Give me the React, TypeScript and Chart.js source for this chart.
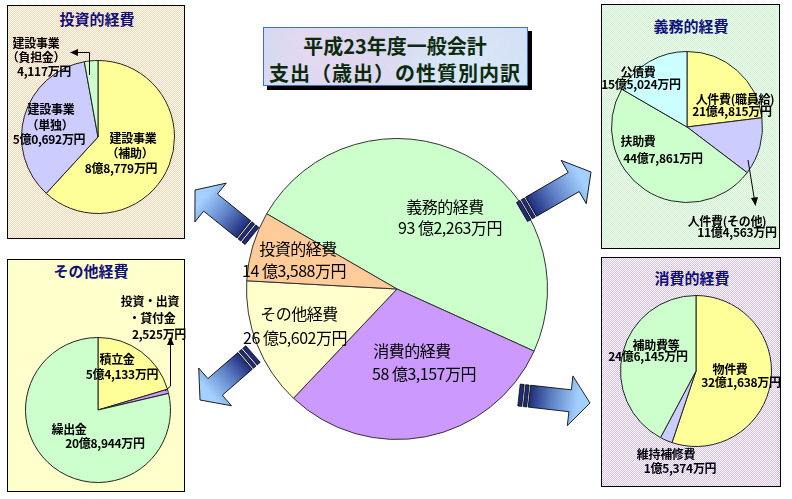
import React, { useEffect, useRef } from "react";
import { Chart, registerables } from "chart.js";
Chart.register(...registerables);

// ---------- data (values in 万円) ----------
const mainNames = ["義務的経費", "消費的経費", "その他経費", "投資的経費"];
const mainValues = [932263, 583157, 265602, 143588];

const toushiNames = [["建設事業", "（補助）"], ["建設事業", "（単独）"], ["建設事業", "（負担金）"]];
const toushiValues = [88779, 50692, 4117];

const gimuNames = [["人件費(職員給)"], ["人件費(その他)"], ["扶助費"], ["公債費"]];
const gimuValues = [214815, 114563, 447861, 155024];

const sonotaNames = [["積立金"], ["投資・出資", "・貸付金"], ["繰出金"]];
const sonotaValues = [54133, 2525, 208944];

const shohiNames = [["物件費"], ["維持補修費"], ["補助費等"]];
const shohiValues = [321638, 15374, 246145];

const titleLines = ["平成23年度一般会計", "支出（歳出）の性質別内訳"];

// ---------- formatting ----------
function pad4(m: number) {
  const s = String(m).padStart(4, "0");
  return s[0] + "," + s.slice(1);
}
function fmtSmall(v: number) {
  const oku = Math.floor(v / 10000);
  const man = v % 10000;
  return oku > 0 ? `${oku}億${pad4(man)}万円` : `${pad4(man)}万円`;
}
function fmtMain(v: number) {
  const oku = Math.floor(v / 10000);
  const man = v % 10000;
  return `${oku} 億${pad4(man)}万円`;
}

// ---------- layout / style ----------
const Y = "#FFFF99", L = "#CCCCFF", G = "#CCFFCC", C = "#CCFFFF", P = "#CC99FF";
const SMALL_FONT = "bold 12px 'Noto Sans CJK JP', sans-serif";
const MAIN_FONT = "16px 'Noto Sans CJK JP', sans-serif";

type Spec = {
  names: string[][];
  values: number[];
  colors: string[];
  cx: number; cy: number; r: number; rotation: number;
  pos: number[][][];
  font: string;
  fmt: (v: number) => string;
  border: string;
};

const specs: Spec[] = [
  {
    names: mainNames.map((n) => [n]), values: mainValues, colors: [G, P, "#FFFFCC", "#FFCC99"],
    cx: 397, cy: 289, r: 150, rotation: -60, font: MAIN_FONT, fmt: fmtMain, border: "#333",
    pos: [[[445, 206], [450, 227]], [[412, 350], [424, 373]], [[299, 313], [295, 337]], [[298, 248], [294, 270]]],
  },
  {
    names: toushiNames, values: toushiValues, colors: [Y, L, G],
    cx: 98, cy: 137, r: 76, rotation: 0, font: SMALL_FONT, fmt: fmtSmall, border: "#222",
    pos: [[[133, 137], [130, 152], [121, 167]], [[51, 108], [50, 124], [49, 138]], [[36, 42], [36, 56], [44, 70]]],
  },
  {
    names: gimuNames, values: gimuValues, colors: [Y, L, G, C],
    cx: 687, cy: 127, r: 75, rotation: 0, font: SMALL_FONT, fmt: fmtSmall, border: "#222",
    pos: [[[735, 98], [732, 110]], [[727, 220], [737, 231]], [[638, 140], [663, 157]], [[638, 71], [641, 83]]],
  },
  {
    names: sonotaNames, values: sonotaValues, colors: [Y, P, G],
    cx: 98, cy: 410, r: 72, rotation: 0, font: SMALL_FONT, fmt: fmtSmall, border: "#222",
    pos: [[[117, 358], [122, 373]], [[150, 300], [152, 317], [159, 333]], [[69, 428], [105, 442]]],
  },
  {
    names: shohiNames, values: shohiValues, colors: [Y, L, G],
    cx: 696, cy: 371, r: 75, rotation: 0, font: SMALL_FONT, fmt: fmtSmall, border: "#222",
    pos: [[[730, 368], [741, 381]], [[666, 453], [680, 467]], [[656, 344], [648, 355]]],
  },
];

const checker = (c: string) => `repeating-conic-gradient(${c} 0 25%, #ffffff 0 50%) 0 0 / 2px 2px`;

const boxes = [
  { title: "投資的経費", x: 7, y: 5, w: 178, h: 234, tx: 97, ty: 18, bg: checker("#FFD3A8") },
  { title: "義務的経費", x: 601, y: 4, w: 179, h: 245, tx: 691, ty: 25, bg: checker("#C4F4C4") },
  { title: "その他経費", x: 7, y: 259, w: 178, h: 233, tx: 91, ty: 270, bg: "#FFFFCC" },
  { title: "消費的経費", x: 601, y: 257, w: 180, h: 230, tx: 692, ty: 277, bg: checker("#D6BBFF") },
];

const blockArrows = [
  { x1: 252, y1: 236, x2: 195, y2: 190 },
  { x1: 253, y1: 354, x2: 200, y2: 400 },
  { x1: 522, y1: 212, x2: 591, y2: 172 },
  { x1: 519, y1: 395, x2: 590, y2: 403 },
];

function PieCanvas({ spec }: { spec: Spec }) {
  const ref = useRef<HTMLCanvasElement>(null);
  useEffect(() => {
    const chart = new Chart(ref.current!, {
      type: "pie",
      data: {
        labels: spec.names.map((n) => n.join("")),
        datasets: [{
          data: spec.values,
          backgroundColor: spec.colors,
          borderColor: spec.border,
          borderWidth: 1,
          hoverOffset: 0,
        }],
      },
      options: {
        animation: false,
        responsive: false,
        rotation: spec.rotation,
        events: [],
        layout: { padding: 0 },
        plugins: { legend: { display: false }, tooltip: { enabled: false } },
      },
    });
    return () => chart.destroy();
  }, []);
  const S = spec.r * 2 + 2;
  return (
    <canvas ref={ref} width={S} height={S}
      style={{ position: "absolute", left: spec.cx - S / 2, top: spec.cy - S / 2, width: S, height: S }} />
  );
}

function BlockArrow({ a, i }: { a: { x1: number; y1: number; x2: number; y2: number }; i: number }) {
  const dx = a.x2 - a.x1, dy = a.y2 - a.y1;
  const len = Math.sqrt(dx * dx + dy * dy);
  const deg = (Math.atan2(dy, dx) * 180) / Math.PI;
  const sw = 11, hw = 25, hl = 20;
  const b0 = 10.5;
  const pts = [
    [b0, -sw], [len - hl, -sw], [len - hl, -hw], [len, 0], [len - hl, hw], [len - hl, sw], [b0, sw],
  ].map((p) => p.join(",")).join(" ");
  return (
    <g transform={`translate(${a.x1},${a.y1}) rotate(${deg})`}>
      <defs>
        <linearGradient id={`ag${i}`} gradientUnits="userSpaceOnUse" x1={b0} y1={0} x2={len - 12} y2={0}>
          <stop offset="0" stopColor="#1f2d7a" />
          <stop offset="0.45" stopColor="#5d7fc4" />
          <stop offset="1" stopColor="#a3d0ff" />
        </linearGradient>
      </defs>
      <rect x={0} y={-sw} width={4} height={sw * 2} fill="#1f2b78" stroke="#000" strokeWidth={0.7} />
      <rect x={5.5} y={-sw} width={3.5} height={sw * 2} fill="#1f2b78" stroke="#000" strokeWidth={0.7} />
      <polygon points={pts} fill={`url(#ag${i})`} stroke="#000" strokeWidth={0.8} />
    </g>
  );
}

export default function App() {
  return (
    <div style={{ position: "absolute", left: 0, top: 0, width: 792, height: 499, background: "#fff", overflow: "hidden",
      fontFamily: "'Noto Sans CJK JP', sans-serif" }}>
      {boxes.map((b, i) => (
        <div key={"b" + i} style={{ position: "absolute", left: b.x, top: b.y, width: b.w, height: b.h,
          border: "1px solid #000", background: b.bg, boxSizing: "border-box" }} />
      ))}
      {boxes.map((b, i) => (
        <div key={"t" + i} style={{ position: "absolute", left: b.tx, top: b.ty, transform: "translate(-50%,-50%)",
          font: "bold 15px 'Noto Sans CJK JP', sans-serif", color: "#10107a", whiteSpace: "nowrap" }}>{b.title}</div>
      ))}
      {/* title box */}
      <div style={{ position: "absolute", left: 267, top: 31, width: 265, height: 59, background: "#000" }} />
      <div style={{ position: "absolute", left: 263, top: 27, width: 265, height: 59, boxSizing: "border-box",
        border: "1.5px solid #3a6fe0",
        background: "radial-gradient(circle at 20% 30%, #e6d8f0 0, transparent 40%), radial-gradient(circle at 75% 70%, #d8e8f8 0, transparent 45%), linear-gradient(135deg, #c9dbf3, #dcd6ef 50%, #cfe2f6)" }} />
      {titleLines.map((t, i) => (
        <div key={"tl" + i} style={{ position: "absolute", left: 395, top: i === 0 ? 45 : 72, transform: "translate(-50%,-50%)",
          font: "bold 20px 'Noto Sans CJK JP', sans-serif", color: "#0c2a0c", whiteSpace: "nowrap", letterSpacing: i === 0 ? "0px" : "1px" }}>{t}</div>
      ))}
      {specs.map((s, i) => <PieCanvas key={"p" + i} spec={s} />)}
      {specs.map((s, si) =>
        s.names.map((nm, k) => {
          const lines = [...nm, s.fmt(s.values[k])];
          return lines.map((ln, j) => (
            <div key={`l${si}-${k}-${j}`} style={{ position: "absolute", left: s.pos[k][j][0], top: s.pos[k][j][1],
              transform: "translate(-50%,-50%)", font: s.font, color: "#000", whiteSpace: "nowrap",
              letterSpacing: si === 0 ? "-0.5px" : "-0.3px" }}>{ln}</div>
          ));
        })
      )}
      <svg width={792} height={499} style={{ position: "absolute", left: 0, top: 0 }}>
        {blockArrows.map((a, i) => <BlockArrow key={i} a={a} i={i} />)}
        <g stroke="#000" strokeWidth={1} fill="none">
          <polyline points="89.5,75 89.5,52.5 76,52.5" />
          <line x1={748} y1={160} x2={754.5} y2={200} />
          <polyline points="165,391 170.5,386 170.5,343" />
        </g>
        <g fill="#000">
          <polygon points="70,52.5 78,49 78,56" />
          <polygon points="755.5,206 751,198 758,197" />
          <polygon points="170.5,337 167,345 174,345" />
        </g>
      </svg>
    </div>
  );
}
